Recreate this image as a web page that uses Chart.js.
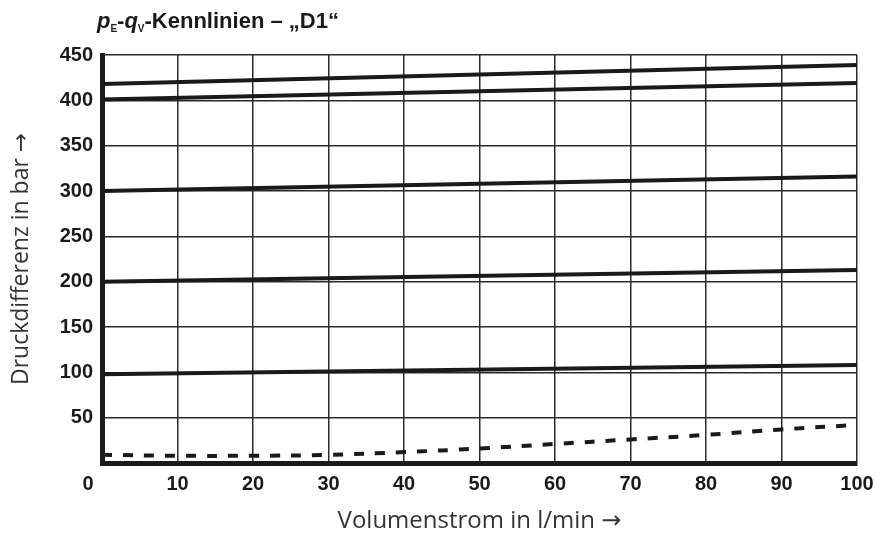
<!DOCTYPE html>
<html>
<head>
<meta charset="utf-8">
<script src="https://cdn.jsdelivr.net/npm/chart.js@4"></script>
<style>
  html, body { margin: 0; padding: 0; background: #fff; }
  #wrap { width: 876px; height: 538px; }
</style>
</head>
<body>
<div id="wrap"><canvas id="pq_chart"></canvas></div>
<script>
  // Volumenstrom (l/min)
  const flowEnds = [0, 100];
  const flowSteps = [0, 10, 20, 30, 40, 50, 60, 70, 80, 90, 100];

  // Druckdifferenz (bar), durchgezogene Kennlinien
  const line420 = [418, 439];
  const line400 = [401, 419];
  const line300 = [300, 316];
  const line200 = [200, 213];
  const line100 = [98, 108];
  // gestrichelte Kennlinie
  const lineDashed = [9, 8, 8, 9, 12, 16, 21, 26, 31, 37, 42];

  const yTicks = [50, 100, 150, 200, 250, 300, 350, 400, 450];
  const xTicks = [0, 10, 20, 30, 40, 50, 60, 70, 80, 90, 100];

  const tickFont = { family: '"Liberation Sans"', size: 20, weight: 'bold' };
  const titleFamily = '"Open Sans", "DejaVu Sans"';

  const toPoints = (xs, ys) => xs.map((x, i) => ({ x: x, y: ys[i] }));

  const solid = (data) => ({
    data: toPoints(flowEnds, data),
    borderColor: '#1a1a1a',
    borderWidth: 4,
    pointRadius: 0,
    fill: false
  });

  // Titel mit Indizes, und die "0" der x-Achse etwas links versetzt
  const textPlugin = {
    id: 'pqText',
    afterDraw(chart) {
      const ctx = chart.ctx;
      ctx.save();
      ctx.fillStyle = '#1a1a1a';
      ctx.textBaseline = 'alphabetic';
      let x = 97;
      const y = 28;
      const parts = [
        { t: 'p', f: 'italic bold 22px "Liberation Sans"', dy: 0 },
        { t: 'E', f: 'bold 10px "Liberation Sans"', dy: 4 },
        { t: '-', f: 'bold 22px "Liberation Sans"', dy: 0 },
        { t: 'q', f: 'italic bold 22px "Liberation Sans"', dy: 0 },
        { t: 'V', f: 'bold 10px "Liberation Sans"', dy: 4 },
        { t: '-Kennlinien – „D1“', f: 'bold 22px "Liberation Sans"', dy: 0 }
      ];
      parts.forEach(p => {
        ctx.font = p.f;
        ctx.fillText(p.t, x, y + p.dy);
        x += ctx.measureText(p.t).width;
      });

      const xs = chart.scales.x;
      ctx.font = 'bold 20px ' + tickFont.family;
      ctx.textAlign = 'center';
      ctx.textBaseline = 'top';
      ctx.fillText(String(xTicks[0]), xs.getPixelForValue(xTicks[0]) - 14, xs.top + 11);
      ctx.restore();
    }
  };

  const ctx = document.getElementById('pq_chart').getContext('2d');

  new Chart(ctx, {
    type: 'line',
    data: {
      datasets: [
        solid(line420),
        solid(line400),
        solid(line300),
        solid(line200),
        solid(line100),
        {
          data: toPoints(flowSteps, lineDashed),
          borderColor: '#1a1a1a',
          borderWidth: 4,
          borderDash: [10, 11],
          pointRadius: 0,
          tension: 0.4,
          fill: false
        }
      ]
    },
    options: {
      responsive: true,
      maintainAspectRatio: false,
      animation: false,
      layout: { padding: { top: 55, right: 19, left: 0, bottom: 0 } },
      plugins: {
        legend: { display: false },
        tooltip: { enabled: false }
      },
      scales: {
        x: {
          type: 'linear',
          min: 0,
          max: 100,
          afterFit: s => { s.height = 75; s.paddingLeft = 0; s.paddingRight = 0; },
          afterBuildTicks: s => { s.ticks = xTicks.map(v => ({ value: v })); },
          grid: { color: '#2a2a2a', lineWidth: 1.5, drawTicks: false },
          border: { color: '#1a1a1a', width: 5 },
          ticks: {
            padding: 9,
            color: '#1a1a1a',
            maxRotation: 0,
            callback: v => (v === 0 ? '' : v),
            font: tickFont
          },
          title: {
            display: true,
            text: 'Volumenstrom in l/min →',
            color: '#333',
            padding: { top: 0, bottom: 2 },
            font: { family: titleFamily, size: 24 }
          }
        },
        y: {
          type: 'linear',
          min: 0,
          max: 450,
          afterFit: s => { s.width = 102; },
          afterBuildTicks: s => { s.ticks = [0].concat(yTicks).map(v => ({ value: v })); },
          grid: { color: '#2a2a2a', lineWidth: 1.5, drawTicks: false },
          border: { color: '#1a1a1a', width: 5 },
          ticks: {
            padding: 9,
            color: '#1a1a1a',
            callback: v => (v === 0 ? '' : v),
            font: tickFont
          },
          title: {
            display: true,
            text: 'Druckdifferenz in bar →',
            color: '#333',
            padding: { top: 8, bottom: 0 },
            font: { family: titleFamily, size: 23 }
          }
        }
      }
    },
    plugins: [textPlugin]
  });
</script>
</body>
</html>
